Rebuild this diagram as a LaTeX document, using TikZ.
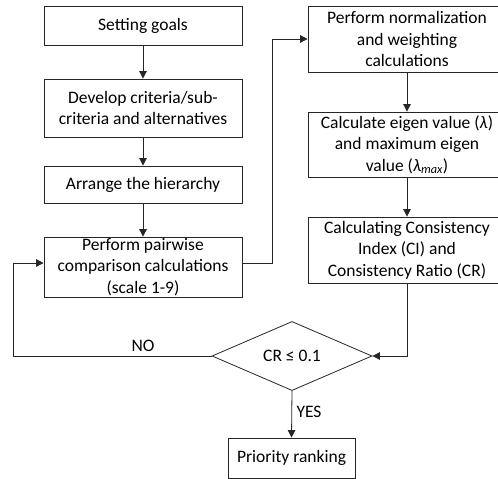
\documentclass[tikz,border=0pt]{standalone}
\usepackage{fontspec}
\setmainfont{Carlito}
\usetikzlibrary{shapes.geometric,arrows.meta}
\begin{document}
\begin{tikzpicture}[x=1pt,y=-1pt,
  every node/.style={font=\fontsize{17.5}{21.5}\selectfont},
  box/.style={draw=black!85, line width=0.8pt, rectangle, align=center, inner sep=0pt, minimum width=198pt},
  decision/.style={draw=black!85, line width=0.8pt, diamond, inner sep=0pt, minimum width=160pt, minimum height=65pt},
  flow/.style={draw=black!85, line width=0.8pt, -{Triangle[length=7.5pt,width=7.5pt]}},
  lbl/.style={inner sep=1pt}
]
\useasboundingbox (0,0) rectangle (498,479);
\clip (0,0) rectangle (498,479);
\node[box, minimum height=39pt] (b1) at (143,25.5) {Setting goals};
\node[box, minimum height=58pt] (b2) at (143,108) {Develop criteria/sub-\\criteria and alternatives};
\node[box, minimum height=37pt] (b3) at (143,184.5) {Arrange the hierarchy};
\node[box, minimum height=60pt] (b4) at (143,267) {Perform pairwise\\comparison calculations\\(scale 1-9)};
\node[box, minimum height=66pt] (r1) at (407,39) {Perform normalization\\and weighting\\calculations};
\node[box, minimum height=65pt] (r2) at (407,144.5) {Calculate eigen value (\textit{λ})\\and maximum eigen\\value (\textit{λ\textsubscript{max}})};
\node[box, minimum height=66pt] (r3) at (407,250) {Calculating Consistency\\Index (CI) and\\Consistency Ratio (CR)};
\node[decision] (d) at (292,356) {CR ≤ 0.1};
\node[box, minimum width=127pt, minimum height=40pt] (p) at (291.5,458) {Priority ranking};
\coordinate (c1) at (272,263);
\coordinate (c2) at (272,39);
\coordinate (n1) at (13,356);
\coordinate (n2) at (13,263);
\coordinate (k1) at (407,356);

\draw[flow] (b1) -- (b2);
\draw[flow] (b2) -- (b3);
\draw[flow] (b3) -- (b4);
\draw[flow] ([yshift=4pt]b4.east) -- (c1) -- (c2) -- (r1.west);
\draw[flow] (r1) -- (r2);
\draw[flow] (r2) -- (r3);
\draw[flow] (r3.south) -- (k1) -- (d.east);
\draw[flow] (d.west) -- (n1) -- (n2) -- ([yshift=4pt]b4.west);
\draw[flow] (d.south) -- (p.north);
\node[lbl] (no) at (143,346) {NO};
\node[lbl] (yes) at (309,412) {YES};
\end{tikzpicture}
\end{document}
